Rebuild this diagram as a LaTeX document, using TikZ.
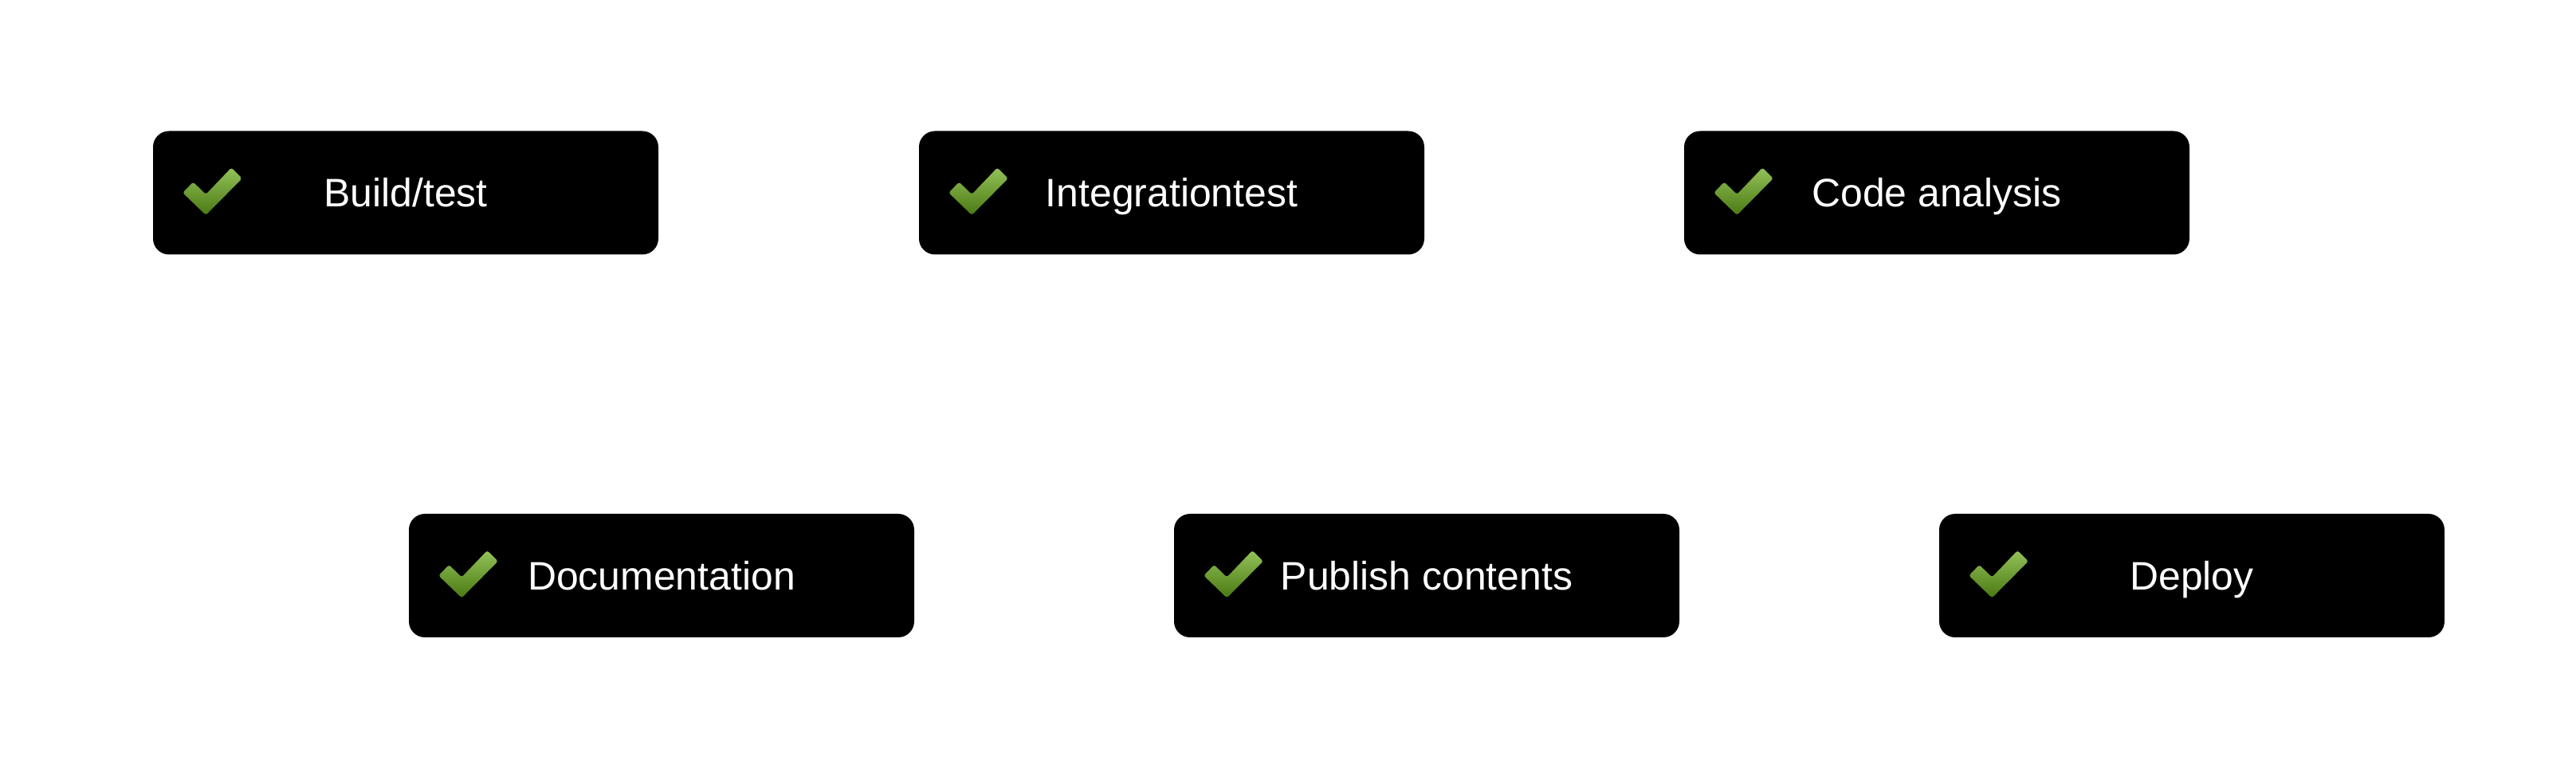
\documentclass[tikz,border=0pt]{standalone}
\usepackage{fontspec}
\setmainfont{Liberation Sans}
\usepackage{tikz}
\usetikzlibrary{positioning}
\definecolor{checklight}{HTML}{93C25A}
\definecolor{checkdark}{HTML}{4A7812}

\begin{document}
\begin{tikzpicture}[
  box/.style={fill=black, rounded corners=2mm, text centered,
    minimum width=63.4mm, minimum height=15.5mm, inner sep=0pt,
    text height=3.6mm, text depth=0mm,
    text=white, font=\fontsize{14.2}{17}\selectfont},
  tick/.style={top color=checklight, bottom color=checkdark,
    rounded corners=0.8pt}
]
\useasboundingbox (0,0) rectangle (32.32,9.64);
% Row 1
\node[box] (BT) at (5.09,  7.22) {Build/test};
\node[box] (IT) at (14.70, 7.22) {Integrationtest};
\node[box] (CA) at (24.30, 7.22) {Code analysis};
% Row 2
\node[box] (DO) at (8.30,  2.415) {Documentation};
\node[box] (PC) at (17.90, 2.415) {Publish contents};
\node[box] (DE) at (27.50, 2.415) {Deploy};
% Green ticks
\foreach \n in {BT,IT,CA,DO,PC,DE}
  \shade[tick, shift={(\n.west)}] (0.38,0) -- (0.51,0.135) -- (0.67,-0.02)
    -- (0.99,0.315) -- (1.125,0.18) -- (0.67,-0.28) -- cycle;
\end{tikzpicture}
\end{document}
